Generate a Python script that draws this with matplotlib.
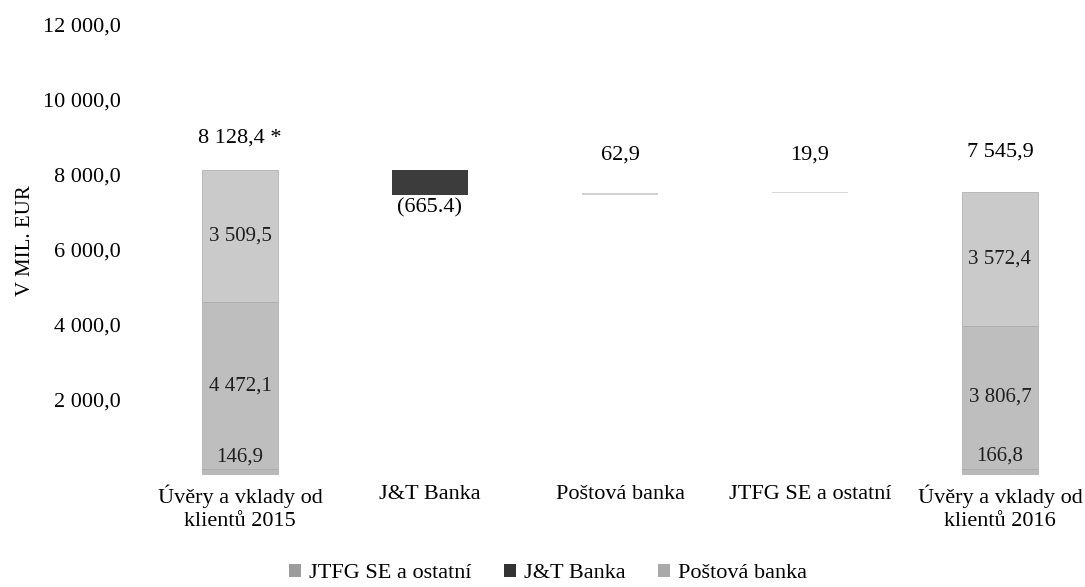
import matplotlib
matplotlib.use('Agg')
from matplotlib import pyplot as plt
from matplotlib.patches import Patch

plt.rcParams['font.family'] = ['Liberation Serif', 'DejaVu Serif']

# categories on the x axis
categories = ['Úvěry a vklady od\nklientů 2015', 'J&T Banka', 'Poštová banka',
              'JTFG SE a ostatní', 'Úvěry a vklady od\nklientů 2016']
series = ['JTFG SE a ostatní', 'J&T Banka', 'Poštová banka']

# stacked totals (JTFG, J&T Banka, Poštová banka)
total_2015 = [146.9, 4472.1, 3509.5]
total_2016 = [166.8, 3806.7, 3572.4]
total_2015_label = '8 128,4 *'
total_2016_label = '7 545,9'

# changes between years
changes = [-665.4, 62.9, 19.9]
change_labels = ['(665.4)', '62,9', '19,9']

seg_colors = ['#b9b9b9', '#bebebe', '#cacaca']
change_colors = ['#3c3c3c', '#d2d2d2', '#d8d8d8']
legend_colors = ['#9c9c9c', '#333333', '#a9a9a9']

fs = 16


def fmt(v):
    s = '{:,.1f}'.format(v)
    return s.replace(',', ' ').replace('.', ',')


fig = plt.figure(figsize=(10.85, 5.87), dpi=100)
ax = fig.add_axes([154.5 / 1085, 112 / 587, 931 / 1085, 450 / 587])
width = 0.4

# first and last stacked bars
for xpos, vals in ((0, total_2015), (4, total_2016)):
    bottom = 0
    for v, c in zip(vals, seg_colors):
        ax.bar(xpos, v, width, bottom=bottom, color=c, edgecolor='#a8a8a8', linewidth=0.5)
        if v > 1000:
            ax.text(xpos, bottom + v / 2, fmt(v), ha='center', va='center', fontsize=fs - 1, color='#1e1e1e')
        else:
            ax.annotate(fmt(v), (xpos, bottom + v), xytext=(0, 2), textcoords='offset points',
                        ha='center', va='bottom', fontsize=fs - 1, color='#1e1e1e')
        bottom += v

ax.annotate(total_2015_label, (0, sum(total_2015)), xytext=(0, 16), textcoords='offset points',
            ha='center', va='bottom', fontsize=fs)
ax.annotate(total_2016_label, (4, sum(total_2016)), xytext=(0, 22), textcoords='offset points',
            ha='center', va='bottom', fontsize=fs)

# waterfall steps
level = sum(total_2015)
for i, (ch, lab, c) in enumerate(zip(changes, change_labels, change_colors)):
    xpos = i + 1
    if ch < 0:
        ax.bar(xpos, -ch, width, bottom=level + ch, color=c)
        ax.annotate(lab, (xpos, level + ch), xytext=(0, -2), textcoords='offset points',
                    ha='center', va='top', fontsize=fs)
        level += ch
    else:
        ax.bar(xpos, ch, width, bottom=level, color=c)
        ax.annotate(lab, (xpos, level + ch), xytext=(0, 20), textcoords='offset points',
                    ha='center', va='bottom', fontsize=fs)
        level += ch

ax.set_xlim(-0.45, 4.45)
ax.set_ylim(0, 12000)
ax.set_yticks([2000, 4000, 6000, 8000, 10000, 12000])
ax.set_yticklabels([fmt(t) for t in ax.get_yticks()], fontsize=fs)
ax.set_xticks(range(len(categories)))
ax.set_xticklabels(categories, fontsize=fs, linespacing=1.3)
ax.tick_params(length=0, pad=7)
ax.tick_params(axis='y', pad=24)
for s in ax.spines.values():
    s.set_visible(False)
ax.set_ylabel('V MIL. EUR', fontsize=fs - 1)
ax.yaxis.set_label_coords(-0.128, 0.52)

handles = [Patch(facecolor=c, label=s) for c, s in zip(legend_colors, series)]
fig.legend(handles=handles, loc='lower center', bbox_to_anchor=(0.505, -0.028), ncol=3, frameon=False,
           fontsize=fs, handlelength=0.55, handleheight=0.55, handletextpad=0.35, columnspacing=1.45)

fig.savefig('out.png', dpi=100)
